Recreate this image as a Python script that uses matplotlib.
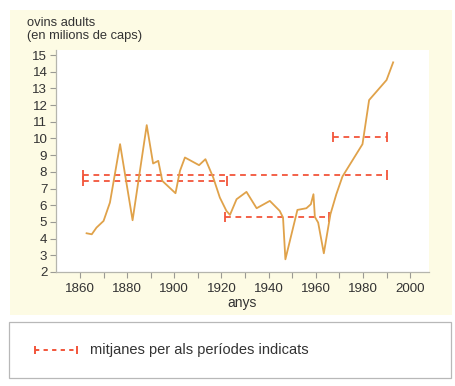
import numpy as np
import matplotlib
matplotlib.use("Agg")
import matplotlib.pyplot as plt
from matplotlib.patches import Rectangle
from matplotlib.lines import Line2D

plt.rcParams['font.family'] = ['Liberation Sans', 'DejaVu Sans']

# -- sheep (millions of head)
years = [1862.8, 1865, 1867, 1870, 1872.7, 1877, 1882.3, 1888.3, 1891, 1893.2,
         1894.9, 1900.5, 1902.4, 1904.5, 1910.5, 1913.2, 1916.5, 1919.3, 1922.1,
         1923.6, 1926.4, 1930.6, 1934.9, 1940.5, 1944.7, 1946.1, 1947.1, 1952.2,
         1956, 1957.9, 1959, 1959.6, 1961, 1963.4, 1966.2, 1968.7, 1971.3,
         1979.8, 1982.6, 1990, 1992.8]
sheep = [4.32, 4.26, 4.66, 5.06, 6.16, 9.66, 5.1, 10.8, 8.5, 8.66,
         7.46, 6.72, 8.06, 8.86, 8.4, 8.76, 7.66, 6.46, 5.66,
         5.42, 6.36, 6.8, 5.82, 6.26, 5.66, 5.26, 2.76, 5.72,
         5.82, 6.06, 6.66, 5.3, 4.96, 3.12, 5.46, 6.66, 7.72,
         9.66, 12.3, 13.5, 14.56]

# -- period means: (start, end, value)
mean_start = [1861.4, 1861.4, 1921.7, 1967.3]
mean_end = [1990, 1922.5, 1965.7, 1990]
mean_value = [7.82, 7.48, 5.32, 10.06]

x_ticks = [1860, 1880, 1900, 1920, 1940, 1960, 1980, 2000]
y_ticks = list(range(2, 16))

line_col = '#e0a24a'
mean_col = '#f2553a'
cream = '#fdfbe4'
text_col = '#333333'


def draw_mean(ax, x0, x1, y):
    ax.plot([x0, x1], [y, y], color=mean_col, lw=1.3, ls=(0, (3.2, 2.6)))
    ax.plot([x0, x1], [y, y], ls='none', marker='|', ms=7, mew=1.3,
            color=mean_col)


def main():
    fig = plt.figure(figsize=(4.55, 3.86), dpi=100)
    fig.patch.set_facecolor('white')

    # cream panel behind the chart
    fig.patches.append(Rectangle((10 / 455, 1 - 315 / 386), 442 / 455, 305 / 386,
                                 transform=fig.transFigure, facecolor=cream,
                                 edgecolor='none', zorder=-10))
    # legend box
    fig.patches.append(Rectangle((9 / 455, 1 - 378 / 386), 442 / 455, 56 / 386,
                                 transform=fig.transFigure, facecolor='white',
                                 edgecolor='#b8b8b8', lw=0.9, zorder=-5))

    ax = fig.add_axes([55.7 / 455, 1 - 272 / 386, (429 - 55.7) / 455, 222 / 386])
    ax.set_facecolor('white')

    ax.plot(years, sheep, color=line_col, lw=1.3, zorder=3)
    for x0, x1, y in zip(mean_start, mean_end, mean_value):
        draw_mean(ax, x0, x1, y)

    ax.set_xlim(1849.7, 2008)
    ax.set_ylim(2, 15.3)
    ax.set_xticks(x_ticks)
    ax.set_xticks(np.arange(1860, 2001, 10), minor=True)
    ax.set_yticks(y_ticks)

    for side in ('top', 'right'):
        ax.spines[side].set_visible(False)
    for side in ('left', 'bottom'):
        ax.spines[side].set_color('#b5b5ad')
        ax.spines[side].set_linewidth(0.9)
    ax.tick_params(axis='both', which='both', color='#9a9a94', width=0.8,
                   length=4, labelsize=9.6, labelcolor=text_col, pad=2)
    ax.tick_params(axis='x', which='major', pad=4)

    ax.set_xlabel('anys', fontsize=10, color=text_col, labelpad=1)
    fig.text(27 / 455, 1 - 17 / 386, 'ovins adults\n(en milions de caps)',
             fontsize=9.3, color=text_col, va='top', ha='left', linespacing=1.15)

    # legend entry
    fig.lines.append(Line2D([35 / 455, 77 / 455], [1 - 350 / 386] * 2,
                            transform=fig.transFigure, color=mean_col, lw=1.4,
                            ls=(0, (2.2, 2.2))))
    fig.lines.append(Line2D([35 / 455, 77 / 455], [1 - 350 / 386] * 2,
                            transform=fig.transFigure, ls='none', marker='|',
                            ms=6, mew=1.4, color=mean_col))
    fig.text(90 / 455, 1 - 350 / 386, 'mitjanes per als períodes indicats',
             fontsize=10.5, color=text_col, va='center', ha='left')

    fig.savefig('out.png', dpi=100, facecolor=fig.get_facecolor())


if __name__ == '__main__':
    main()
